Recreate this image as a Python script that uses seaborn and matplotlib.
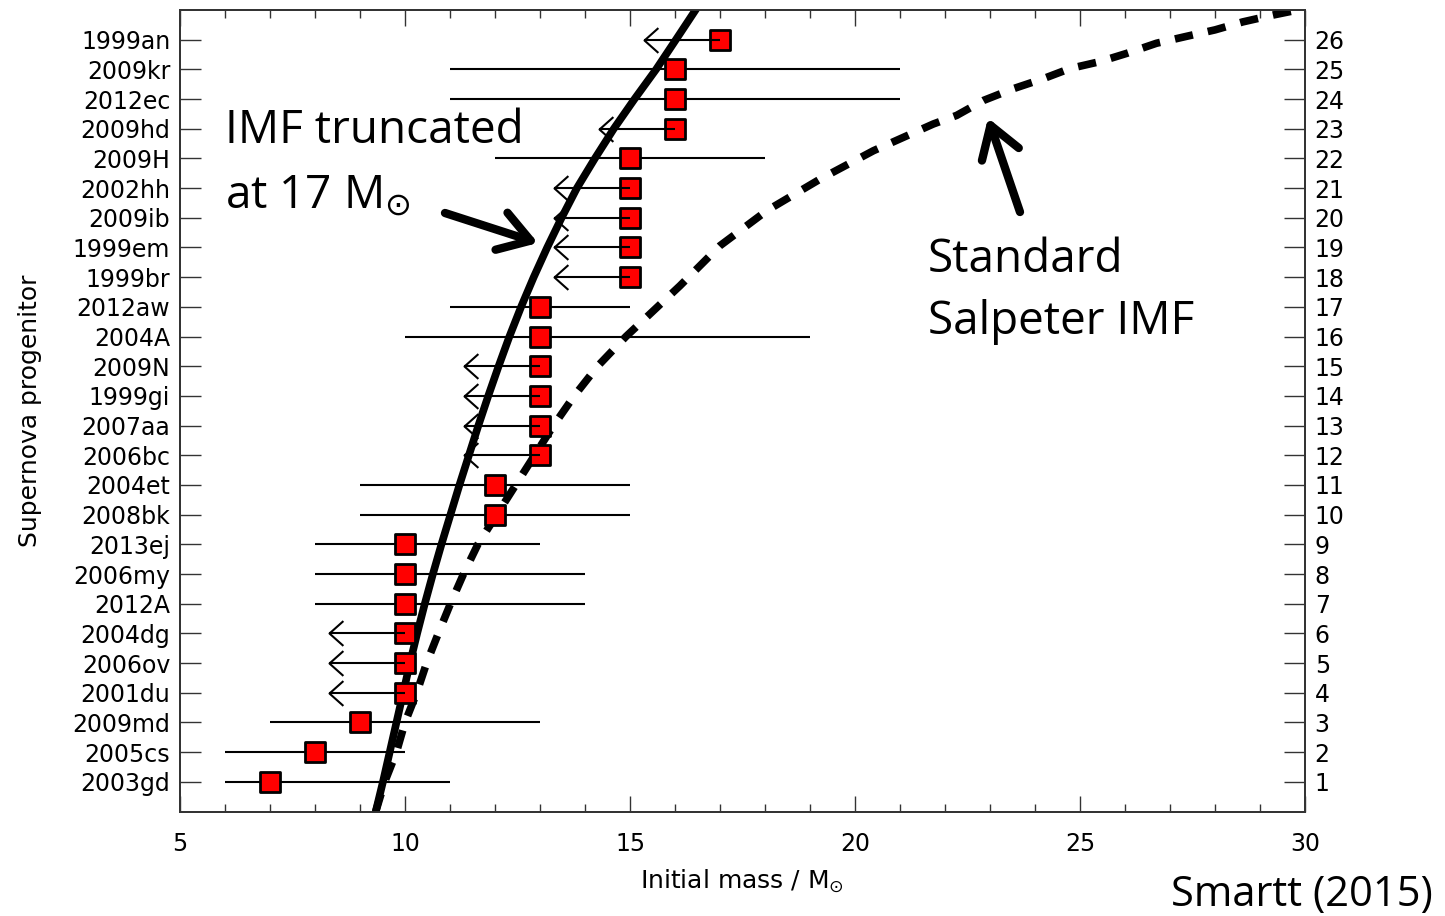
import numpy as np
import pandas as pd
import matplotlib
matplotlib.use("Agg")
import matplotlib.pyplot as plt
import seaborn as sns
from matplotlib.path import Path
from matplotlib.ticker import MultipleLocator

# ---------------- data ----------------
names = ['2003gd', '2005cs', '2009md', '2001du', '2006ov', '2004dg', '2012A',
         '2006my', '2013ej', '2008bk', '2004et', '2006bc', '2007aa', '1999gi',
         '2009N', '2004A', '2012aw', '1999br', '1999em', '2009ib', '2002hh',
         '2009H', '2009hd', '2012ec', '2009kr', '1999an']
ranks = list(range(1, 27))
mass = [7, 8, 9, 10, 10, 10, 10, 10, 10, 12, 12, 13, 13, 13, 13, 13, 13,
        15, 15, 15, 15, 15, 16, 16, 16, 17]
lower = [6, 6, 7, 8.3, 8.3, 8.3, 8, 8, 8, 9, 9, 11.3, 11.3, 11.3, 11.3, 10, 11,
         13.3, 13.3, 13.3, 13.3, 12, 14.3, 11, 11, 15.3]
upper = [11, 10, 13, np.nan, np.nan, np.nan, 14, 14, 13, 15, 15, np.nan, np.nan,
         np.nan, np.nan, 19, 15, np.nan, np.nan, np.nan, np.nan, 18, np.nan, 21,
         21, np.nan]

# IMF truncated at 17 Msun
trunc_rank = [0, 1, 2, 3, 4, 5, 6, 7, 8, 9, 10, 11, 12, 13, 14, 15, 16, 17,
              18, 19, 20, 21, 22, 23, 24, 25, 26, 27.1]
trunc_mass = [9.35, 9.51, 9.66, 9.81, 9.96, 10.11, 10.27, 10.44, 10.62, 10.81,
              11.01, 11.21, 11.42, 11.63, 11.85, 12.08, 12.32, 12.58, 12.86,
              13.16, 13.48, 13.82, 14.22, 14.64, 15.10, 15.58, 16.02, 16.50]

# Standard Salpeter IMF
salp_rank = [0, 1, 2, 3, 4, 5, 6, 7, 8, 9, 10, 11, 12, 13, 14, 15, 16, 17.71,
             19.06, 20.24, 21.3, 22.26, 23.16, 23.45, 23.95, 24.35, 24.69,
             25.03, 25.26, 25.54, 25.88, 26.1, 26.33, 26.6, 26.83, 27.05]
salp_mass = [9.35, 9.55, 9.81, 10.0, 10.26, 10.48, 10.74, 11.01, 11.3, 11.62,
             12.04, 12.46, 12.88, 13.3, 13.76, 14.28, 14.91, 16.11, 17.0, 18.04,
             19.22, 20.41, 21.74, 22.26, 22.85, 23.52, 24.19, 24.78, 25.44,
             26.04, 26.70, 27.33, 28.0, 28.62, 29.29, 30.0]

df = pd.DataFrame({'name': names, 'rank': ranks, 'mass': mass,
                   'lower': lower, 'upper': upper})
df['limit'] = df['upper'].isna()

# ---------------- style ----------------
sns.set_style("ticks")
plt.rcParams['font.family'] = ['DejaVu Sans']
plt.rcParams['mathtext.fontset'] = 'dejavusans'
for k in ('text.color', 'axes.labelcolor', 'xtick.color', 'ytick.color',
          'xtick.labelcolor', 'ytick.labelcolor'):
    plt.rcParams[k] = 'black'

W, H = 1445, 916
fig = plt.figure(figsize=(W / 100, H / 100), dpi=100)
ax = fig.add_axes([180 / W, 1 - 811.5 / H, 1125 / W, 801.5 / H])

# two-sided error bars
two = df[~df['limit']]
ax.hlines(two['rank'], two['lower'], two['upper'], color='black', lw=1.5,
          zorder=2)

# model curves
sns.lineplot(x=trunc_mass, y=trunc_rank, sort=False, estimator=None,
             color='black', lw=5.5, ax=ax, zorder=3)
sns.lineplot(x=salp_mass, y=salp_rank, sort=False, estimator=None,
             color='black', lw=5.5, linestyle=(0, (2.4, 2.0)), ax=ax, zorder=3)

# progenitor masses
sns.scatterplot(data=df, x='mass', y='rank', marker='s', s=220, color='red',
                edgecolor='black', linewidth=2, ax=ax, zorder=4, legend=False)

# upper limits
lim = df[df['limit']]
ax.hlines(lim['rank'], lim['lower'], lim['mass'], color='black', lw=1.5,
          zorder=5)
chev = Path([(1.12, 1), (0, 0), (1.12, -1)],
            [Path.MOVETO, Path.LINETO, Path.LINETO])
ax.plot(lim['lower'], lim['rank'], ls='none', marker=chev, ms=20, mfc='none',
        mec='black', mew=1.5, zorder=5)

# axes
ax.set_xlim(5, 30)
ax.set_ylim(0, 27)
ax.set_xticks([5, 10, 15, 20, 25, 30])
ax.xaxis.set_minor_locator(MultipleLocator(1))
ax.set_yticks(ranks)
ax.set_yticklabels(names)
ax.tick_params(axis='x', which='major', direction='in', length=11.5, width=1,
               top=True, bottom=True, labelsize=17, pad=15, color='#333333')
ax.tick_params(axis='x', which='minor', direction='in', length=6, width=1,
               top=True, bottom=True, color='#333333')
ax.tick_params(axis='y', which='major', direction='in', length=15, width=1,
               left=True, labelsize=17, pad=7, color='#333333')
ax.set_xlabel(r'Initial mass / M$_{\odot}$', fontsize=18, labelpad=8)
ax.set_ylabel('Supernova progenitor', fontsize=18, labelpad=22)

ax2 = ax.twinx()
ax2.set_ylim(0, 27)
ax2.set_yticks(ranks)
ax2.set_yticklabels([str(r) for r in ranks])
ax2.tick_params(axis='y', direction='in', length=15, width=1, right=True,
                labelsize=17, pad=7, color='#333333')

for a in (ax, ax2):
    for sp in a.spines.values():
        sp.set_visible(True)
        sp.set_color('#333333')
        sp.set_linewidth(1.3)

# annotations
fp = lambda x, y: (x / W, 1 - y / H)
fig.text(*fp(225, 143), 'IMF truncated', fontsize=33, family='Open Sans',
         va='baseline', ha='left', color='black')
fig.text(*fp(225, 208), r'at 17 M$_{\odot}$', fontsize=33, family='Open Sans',
         va='baseline', ha='left', color='black')
fig.text(*fp(928, 272), 'Standard', fontsize=33, family='Open Sans',
         va='baseline', ha='left', color='black')
fig.text(*fp(928, 334), 'Salpeter IMF', fontsize=33, family='Open Sans',
         va='baseline', ha='left', color='black')
fig.text(*fp(1433, 906), 'Smartt (2015)', fontsize=30, family='Open Sans',
         va='baseline', ha='right', color='black')

arrow_kw = dict(arrowstyle='->,head_length=1.1,head_width=0.7', lw=6,
                color='black', mutation_scale=20, shrinkA=0, shrinkB=0,
                capstyle='round', joinstyle='round')
ax.annotate('', xy=(538, H - 243), xycoords='figure pixels',
            xytext=(445, H - 213), textcoords='figure pixels',
            arrowprops=arrow_kw)
ax.annotate('', xy=(988, H - 118), xycoords='figure pixels',
            xytext=(1020, H - 212), textcoords='figure pixels',
            arrowprops=arrow_kw)

fig.savefig('out.png', dpi=100)
